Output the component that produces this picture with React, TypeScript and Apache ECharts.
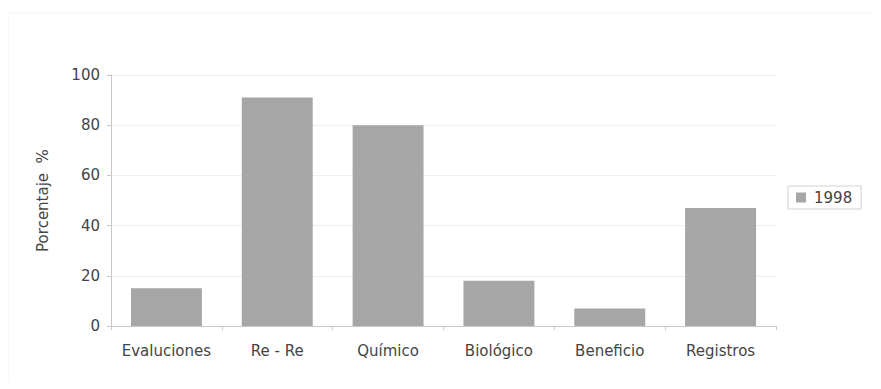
import React, { useEffect, useRef } from "react";
import * as echarts from "echarts";

const categories = ["Evaluciones", "Re - Re", "Químico", "Biológico", "Beneficio", "Registros"];
const values1998 = [15, 91, 80, 18, 7, 47];
const seriesName = "1998";
const yTicks = { min: 0, max: 100, interval: 20 };

const FONT = "'DejaVu Sans', 'Liberation Sans', Arial, sans-serif";
const BAR = "#a6a6a6";
const TEXT = "#444444";

export default function App() {
  const ref = useRef<HTMLDivElement>(null);

  useEffect(() => {
    if (!ref.current) return;
    const chart = echarts.init(ref.current, undefined, { renderer: "svg" });
    chart.setOption({
      animation: false,
      backgroundColor: "#ffffff",
      textStyle: { fontFamily: FONT },
      grid: { left: 111, right: 105, top: 75, bottom: 63 },
      legend: {
        data: [{ name: seriesName, icon: "rect" }],
        left: 788,
        top: 186,
        orient: "vertical",
        itemWidth: 10,
        itemHeight: 10,
        itemGap: 4,
        padding: [4, 9, 4, 8],
        borderColor: "#d2d2d2",
        borderWidth: 1,
        textStyle: { fontFamily: FONT, fontSize: 15, color: TEXT, padding: [0, 0, 0, 3] },
      },
      xAxis: {
        type: "category",
        data: categories,
        axisLine: { lineStyle: { color: "#c8c8c8" } },
        axisTick: { show: true, interval: 0, alignWithLabel: false, length: 4, lineStyle: { color: "#c8c8c8" } },
        axisLabel: { interval: 0, fontFamily: FONT, fontSize: 15, color: TEXT, margin: 17 },
      },
      yAxis: {
        type: "value",
        min: yTicks.min,
        max: yTicks.max,
        interval: yTicks.interval,
        name: "Porcentaje  %",
        nameLocation: "middle",
        nameGap: 61,
        nameTextStyle: { fontFamily: FONT, fontSize: 15, color: TEXT },
        axisLine: { show: true, lineStyle: { color: "#c8c8c8" } },
        axisTick: { show: true, length: 4, lineStyle: { color: "#c8c8c8" } },
        axisLabel: { fontFamily: FONT, fontSize: 15, color: TEXT, margin: 11 },
        splitLine: { show: true, lineStyle: { color: "#efefef" } },
      },
      series: [
        {
          name: seriesName,
          type: "bar",
          data: values1998,
          barCategoryGap: "36%",
          itemStyle: { color: BAR },
        },
      ],
      graphic: [
        {
          type: "rect",
          shape: { x: 8, y: 13, width: 866, height: 370 },
          style: { fill: "none", stroke: "#f3f3f3", lineWidth: 1 },
          silent: true,
        },
      ],
    });
    return () => chart.dispose();
  }, []);

  return <div ref={ref} style={{ width: 881, height: 389, margin: -8 }} />;
}
